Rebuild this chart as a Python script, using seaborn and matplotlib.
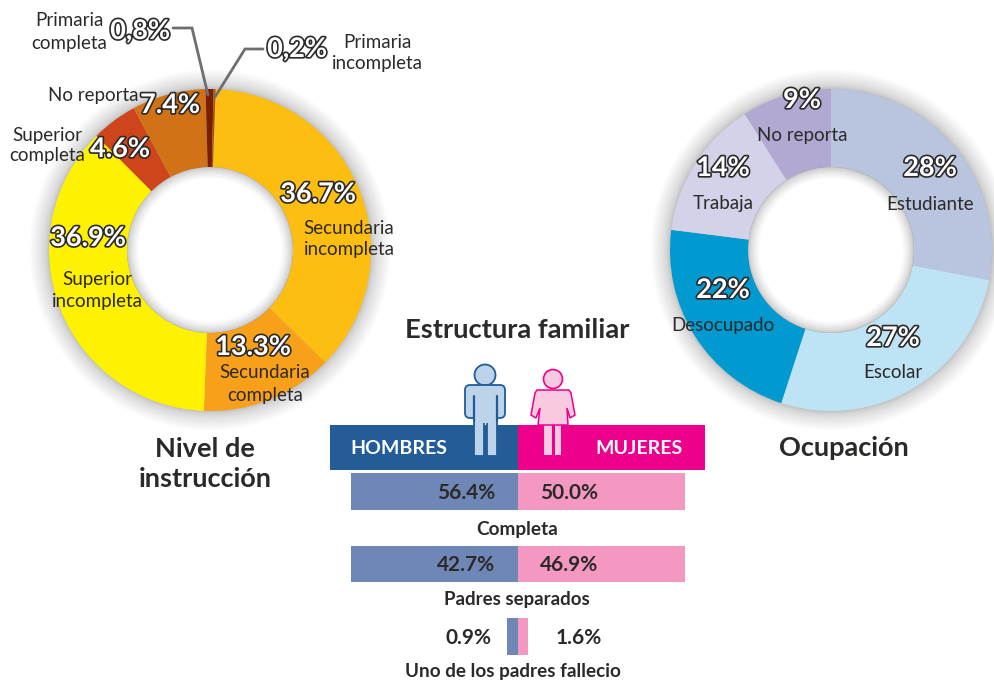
import matplotlib
matplotlib.use('Agg')
import matplotlib.pyplot as plt
import matplotlib.patheffects as pe
from matplotlib.patches import Circle, Wedge, FancyBboxPatch, Rectangle, Polygon
import pandas as pd
import seaborn as sns

W = 995
H = 681

# nivel de instruccion
nivel_names = ['Secundaria incompleta', 'Secundaria completa', 'Superior incompleta', 'Superior completa',
               'No reporta', 'Primaria completa', 'Primaria incompleta']
nivel_values = [36.7, 13.3, 36.9, 4.6, 7.4, 0.8, 0.2]
nivel_colors = ['#FDBE11', '#F9A01B', '#FFF200', '#CF451B', '#D27216', '#7A1E00', '#A8540F']

# ocupacion
ocup_names = ['Estudiante', 'Escolar', 'Desocupado', 'Trabaja', 'No reporta']
ocup_values = [28, 27, 22, 14, 9]
ocup_colors = ['#B9C4DE', '#BDE3F4', '#0099D0', '#D4D2E9', '#B2A9D2']

# estructura familiar
fam_names = ['Completa', 'Padres separados', 'Uno de los padres fallecio']
hombres_pct = [56.4, 42.7, 0.9]
mujeres_pct = [50.0, 46.9, 1.6]
# the bars in the picture are not proportional to the printed %, these are their drawn lengths
hombres_len = [100, 100, 6.6]
mujeres_len = [100, 100, 6.0]

sns.set_theme(style='white')
plt.rcParams['font.family'] = ['Lato', 'DejaVu Sans']
DARK = '#2B2A29'


def px_axes(fig, left, top, right, bottom, zorder):
    ax = fig.add_axes([left / W, 1 - bottom / H, (right - left) / W, (bottom - top) / H], zorder=zorder)
    ax.patch.set_alpha(0)
    return ax


def shadow(ax, cx, cy):
    # soft grey halo outside the ring, denser close to the rim
    steps = 16
    for i in range(steps):
        r = 161 + 19 * ((i + 1) / steps) ** 2
        ax.add_patch(Circle((cx, cy), r, color='#444444', alpha=0.022, lw=0))
    ax.add_patch(Circle((cx, cy), 83, color='white', lw=0))


def donut(fig, cx, cy, values, colors, start):
    ax = px_axes(fig, cx - 161, cy - 161, cx + 161, cy + 161, 1)
    ax.pie(values, colors=colors, startangle=start, counterclock=False, radius=1,
           wedgeprops={'width': 78 / 161, 'linewidth': 0})
    ax.set_xlim(-1, 1)
    ax.set_ylim(-1, 1)
    # inner shadow over the hole
    steps = 12
    for i in range(steps):
        r = (83 - 11 * ((i + 1) / steps) ** 2) / 161
        ax.add_patch(Wedge((0, 0), 83 / 161, 0, 360, width=83 / 161 - r, color='#444444', alpha=0.03, lw=0))
    return ax


def pct(ax, x, y, s, size=19.5):
    ax.text(x, y, s, ha='center', va='center', fontsize=size, fontweight='bold', color='white',
            path_effects=[pe.withStroke(linewidth=2.4, foreground='#2B2A29')])


def lab(ax, x, y, s, size=13.5, weight='normal', color=DARK, ha='center'):
    ax.text(x, y + 1, s, ha=ha, va='center', fontsize=size, fontweight=weight, color=color)


fig = plt.figure(figsize=(W / 100, H / 100), dpi=100, facecolor='white')

bg = px_axes(fig, 0, 0, W, H, 0)
bg.set_xlim(0, W)
bg.set_ylim(H, 0)
bg.axis('off')
shadow(bg, 210, 250)
shadow(bg, 831, 250)

donut(fig, 210, 250, nivel_values, nivel_colors, 88)
donut(fig, 831, 250, ocup_values, ocup_colors, 90)

# family bars
fam_df = pd.DataFrame({
    'estructura': fam_names * 2,
    'sexo': ['H'] * 3 + ['M'] * 3,
    'largo': [-v for v in hombres_len] + mujeres_len,
})
bar_ax = px_axes(fig, 351, 455, 685, 673, 1)
sns.barplot(data=fam_df, y='estructura', x='largo', hue='sexo', dodge=False, orient='y', width=37 / 73,
            palette={'H': '#6F87B6', 'M': '#F498C2'}, saturation=1, legend=False, ax=bar_ax, linewidth=0)
bar_ax.set_xlim(-100, 100)
bar_ax.set_ylim(2.5, -0.5)
bar_ax.axis('off')

top = px_axes(fig, 0, 0, W, H, 2)
top.set_xlim(0, W)
top.set_ylim(H, 0)
top.axis('off')

# header band
top.add_patch(Rectangle((330, 425), 188, 45, color='#235C97', lw=0))
top.add_patch(Rectangle((518, 425), 187, 45, color='#EC008C', lw=0))
lab(top, 399, 447, 'HOMBRES', 14, 'bold', 'white')
lab(top, 639, 447, 'MUJERES', 14, 'bold', 'white')

# man
man_fc = '#BDD3EA'
man_ec = '#1F5C99'
top.add_patch(Circle((485, 375), 10.5, fc=man_fc, ec=man_ec, lw=1.3))
top.add_patch(FancyBboxPatch((467, 387), 36, 29, boxstyle='round,pad=2,rounding_size=5', fc=man_fc, ec=man_ec, lw=1.3))
top.add_patch(Rectangle((474, 420), 9.5, 35.5, fc=man_fc, ec=man_ec, lw=1.3))
top.add_patch(Rectangle((486.5, 420), 10, 35.5, fc=man_fc, ec=man_ec, lw=1.3))
top.add_patch(Rectangle((475, 395), 21, 28, fc=man_fc, ec='none'))
top.plot([474, 474], [396, 421], color=man_ec, lw=1.6)
top.plot([496.5, 496.5], [396, 421], color=man_ec, lw=1.6)

# woman
wom_fc = '#F9C9E0'
wom_ec = '#EC008C'
top.add_patch(Rectangle((544, 425), 8, 30, fc=wom_fc, ec='none'))
top.add_patch(Rectangle((555, 425), 6, 30, fc=wom_fc, ec='none'))
top.add_patch(Polygon([(537, 390), (569, 390), (571, 393), (575, 415), (570, 418), (567, 408), (568, 425),
                       (538, 425), (540, 408), (536, 418), (531, 415), (535, 393)],
                      closed=True, fc=wom_fc, ec=wom_ec, lw=1.1))
top.add_patch(Circle((553, 379), 9.5, fc=wom_fc, ec=wom_ec, lw=1.2))

# leader lines
top.plot([173, 192, 208], [28, 28, 95], color='#6D6E71', lw=2, solid_joinstyle='miter')
top.plot([263, 245, 215], [49, 49, 97], color='#6D6E71', lw=2, solid_joinstyle='miter')

# left donut labels
lab(top, 69, 20, 'Primaria')
lab(top, 69, 42, 'completa')
lab(top, 377, 42, 'Primaria')
lab(top, 377, 63, 'incompleta')
lab(top, 93, 94, 'No reporta')
lab(top, 47, 134, 'Superior')
lab(top, 47, 155, 'completa')
lab(top, 349, 227, 'Secundaria')
lab(top, 349, 249, 'incompleta')
lab(top, 97, 278, 'Superior')
lab(top, 97, 300, 'incompleta')
lab(top, 265, 372, 'Secundaria')
lab(top, 265, 395, 'completa')
for x, y, v in [(318, 194, nivel_values[0]), (253, 347, nivel_values[1]), (88, 238, nivel_values[2]),
                (120, 149, nivel_values[3]), (170, 105, nivel_values[4])]:
    pct(top, x, y, '%.1f%%' % v)
pct(top, 140, 31, '0,8%')
pct(top, 297, 49, '0,2%')

# right donut labels
ocup_pos = [(930, 168, 203), (893, 338, 372), (723, 290, 325), (723, 168, 203), (802, 100, 134)]
for (x, y1, y2), name, v in zip(ocup_pos, ocup_names, ocup_values):
    pct(top, x, y1, '%d%%' % v)
    lab(top, x, y2, name)

# titles
lab(top, 205, 448, 'Nivel de', 19.5, 'bold')
lab(top, 205, 478, 'instrucción', 19.5, 'bold')
lab(top, 517, 329, 'Estructura familiar', 19.7, 'bold')
lab(top, 844, 447, 'Ocupación', 19.5, 'bold')

# family texts
lab(top, 466, 492, '%.1f%%' % hombres_pct[0], 15, 'bold')
lab(top, 569, 492, '%.1f%%' % mujeres_pct[0], 15, 'bold')
lab(top, 466, 564, '%.1f%%' % hombres_pct[1], 15, 'bold')
lab(top, 569, 564, '%.1f%%' % mujeres_pct[1], 15, 'bold')
lab(top, 468, 637, '%.1f%%' % hombres_pct[2], 15, 'bold')
lab(top, 579, 637, '%.1f%%' % mujeres_pct[2], 15, 'bold')
lab(top, 517, 528, fam_names[0], 13.7, 'bold')
lab(top, 517, 598, fam_names[1], 13.4, 'bold')
lab(top, 513, 670, fam_names[2], 13.6, 'bold')

fig.savefig('out.png', dpi=100, facecolor='white')
